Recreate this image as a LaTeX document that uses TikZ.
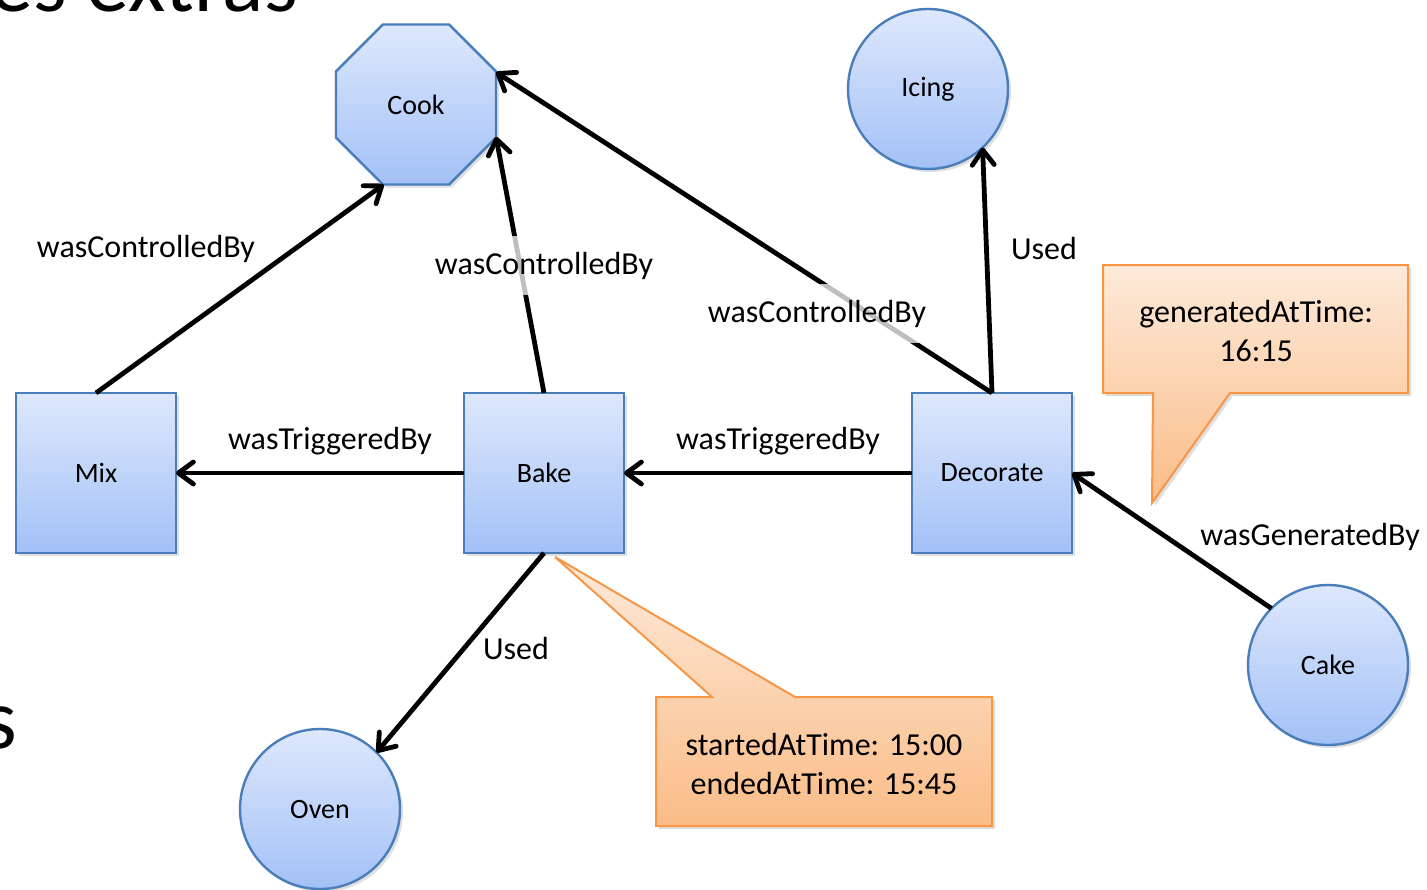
\documentclass[tikz,border=0pt]{standalone}
\usepackage{fontspec}
\setmainfont{Carlito}
\usetikzlibrary{arrows.meta,shapes.geometric,shadows}

\definecolor{nodetop}{RGB}{222,232,252}
\definecolor{nodebot}{RGB}{163,193,247}
\definecolor{nodeline}{RGB}{74,126,187}
\definecolor{calltop}{RGB}{253,234,218}
\definecolor{callbot}{RGB}{250,188,135}
\definecolor{callline}{RGB}{247,150,70}

\tikzset{
  pnode/.style={draw=nodeline, line width=1.2pt, top color=nodetop, bottom color=nodebot,
    outer sep=0pt, inner sep=0pt, font=\fontsize{14}{17}\selectfont,
    drop shadow={opacity=0.25, shadow xshift=1.5pt, shadow yshift=-1.5pt}},
  activity/.style={pnode, rectangle, minimum width=80pt, minimum height=80pt},
  entity/.style={pnode, circle, minimum size=80pt},
  agent/.style={pnode, regular polygon, regular polygon sides=8, minimum size=86.6pt},
  rel/.style={-{Straight Barb[length=7.5pt,width=11pt,line cap=round,line join=round]},
    line width=2.4pt, black},
  lbl/.style={font=\fontsize{16}{19.5}\selectfont, inner sep=0pt},
  lblbg/.style={lbl, fill=white, fill opacity=0.75, text opacity=1, inner xsep=4pt, inner ysep=8pt},
  calloutbox/.style={draw=callline, line width=1pt, top color=calltop, bottom color=callbot,
    drop shadow={opacity=0.25, shadow xshift=1.5pt, shadow yshift=-1.5pt}},
  calltext/.style={font=\fontsize{16}{19.5}\selectfont, align=center, inner sep=0pt},
  bigtext/.style={font=\fontsize{43}{50}\selectfont, inner sep=0pt},
}

\begin{document}
\begin{tikzpicture}[x=0.5pt,y=-0.5pt]
\fill[white] (0,0) rectangle (1427,889);
\useasboundingbox (0,0) rectangle (1427,889);

% slide text fragments (cut off by the picture's edge, as in the reference)
\node[bigtext, anchor=base east] (toptext) at (298,11) {es extras};
\node[bigtext, anchor=base east] (lefttext) at (18,748) {s};

% nodes
\node[agent] (cook) at (416,104.5) {Cook};
\node[entity] (icing) at (928,89) {Icing};
\node[activity] (mix) at (96,473) {Mix};
\node[activity] (bake) at (544,473) {Bake};
\node[activity] (decorate) at (992,473) {Decorate};
\node[entity] (oven) at (320,809) {Oven};
\node[entity] (cake) at (1328,665) {Cake};

% connectors
\draw[rel] (mix.north) -- (cook.-112.5);
\draw[rel] (bake.north) -- (cook.-22.5);
\draw[rel] (decorate.north) -- (cook.22.5);
\draw[rel] (decorate.north) -- (icing.-47);
\draw[rel] (bake.west) -- (mix.east);
\draw[rel] (decorate.west) -- (bake.east);
\draw[rel] (bake.south) -- (oven.45);
\draw[rel] (cake.135) -- (decorate.east);

% callouts
\coordinate (tipA) at (555,557);
\coordinate (tipB) at (1152,503);
\path[calloutbox] (656,697) -- (712,697) -- (tipA) -- (795,697) -- (992,697)
  -- (992,826) -- (656,826) -- cycle;
\path[calloutbox] (1103,265) -- (1408,265) -- (1408,393) -- (1230,393) -- (tipB)
  -- (1153,393) -- (1103,393) -- cycle;
\node[calltext] (bakeinfo) at (824,763.5) {startedAtTime: 15:00\\endedAtTime: 15:45};
\node[calltext] (cakeinfo) at (1256,331.5) {generatedAtTime:\\16:15};

% labels
\node[lbl] (l1) at (146,249) {wasControlledBy};
\node[lblbg] (l2) at (544,265.5) {wasControlledBy};
\node[lblbg] (l3) at (817,313.5) {wasControlledBy};
\node[lbl] (l4) at (1044,248.5) {Used};
\node[lbl] (l5) at (330,441.5) {wasTriggeredBy};
\node[lbl] (l6) at (778,441.5) {wasTriggeredBy};
\node[lbl] (l7) at (516,648) {Used};
\node[lbl] (l8) at (1310,536.5) {wasGeneratedBy};
\end{tikzpicture}
\end{document}
